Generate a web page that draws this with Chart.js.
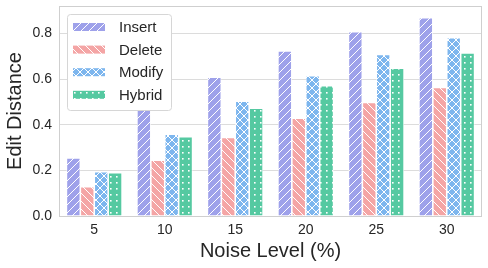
<!DOCTYPE html>
<html>
<head>
<meta charset="utf-8">
<script src="https://cdn.jsdelivr.net/npm/chart.js@4/dist/chart.umd.min.js"></script>
<style>
  html, body { margin: 0; padding: 0; background: #fff; }
  #wrap { width: 488px; height: 268px; }
</style>
</head>
<body>
<div id="wrap"><canvas id="barChart" width="488" height="268"></canvas></div>
<script>
// values
const noiseLevels = ['5', '10', '15', '20', '25', '30'];
const insertVals = [0.254, 0.48, 0.608, 0.723, 0.807, 0.869];
const deleteVals = [0.128, 0.245, 0.344, 0.428, 0.498, 0.563];
const modifyVals = [0.194, 0.358, 0.503, 0.615, 0.708, 0.781];
const hybridVals = [0.19, 0.347, 0.472, 0.571, 0.648, 0.714];
const seriesNames = ['Insert', 'Delete', 'Modify', 'Hybrid'];
const yTicks = [0.0, 0.2, 0.4, 0.6, 0.8];

const FONT = "'Liberation Sans', Arial, sans-serif";
const TEXT = '#262626';
const GRID = '#dcdcdc';

// hatch patterns like matplotlib: white lines on the bar colour
function makePattern(color, kind) {
    const s = kind === 'dots' ? 6 : 8;
    const c = document.createElement('canvas');
    c.width = s; c.height = s;
    const g = c.getContext('2d');
    g.fillStyle = color;
    g.fillRect(0, 0, s, s);
    g.strokeStyle = '#ffffff';
    g.fillStyle = '#ffffff';
    g.lineWidth = 1;
    const fwd = () => {
        g.beginPath();
        g.moveTo(-1, s + 1); g.lineTo(s + 1, -1);
        g.moveTo(-1, 1); g.lineTo(1, -1);
        g.moveTo(s - 1, s + 1); g.lineTo(s + 1, s - 1);
        g.stroke();
    };
    const back = () => {
        g.beginPath();
        g.moveTo(-1, -1); g.lineTo(s + 1, s + 1);
        g.moveTo(s - 1, -1); g.lineTo(s + 1, 1);
        g.moveTo(-1, s - 1); g.lineTo(1, s + 1);
        g.stroke();
    };
    if (kind === 'fwd') fwd();
    if (kind === 'back') back();
    if (kind === 'cross') { fwd(); back(); }
    if (kind === 'dots') g.fillRect(2, 2, 1.6, 1.6);
    return g.createPattern(c, 'repeat');
}

const colors = ['#9ea1ea', '#f4a5a5', '#7db6ee', '#55c9a1'];
const hatches = ['fwd', 'back', 'cross', 'dots'];
const allVals = [insertVals, deleteVals, modifyVals, hybridVals];

// legend drawn inside the plot, upper left, like matplotlib
const innerLegend = {
    id: 'innerLegend',
    afterDatasetsDraw(chart) {
        const ctx = chart.ctx;
        const a = chart.chartArea;
        // plot frame (all four spines light grey)
        ctx.save();
        ctx.strokeStyle = '#cfcfcf';
        ctx.lineWidth = 1;
        ctx.strokeRect(Math.round(a.left) + 0.5, Math.round(a.top) + 0.5,
            Math.round(a.right - a.left) - 1, Math.round(a.bottom - a.top));
        ctx.restore();

        const x = a.left + 8, y = a.top + 8, w = 104, h = 96;
        ctx.save();
        ctx.beginPath();
        ctx.roundRect(x + 0.5, y + 0.5, w, h, 3);
        ctx.fillStyle = '#ffffff';
        ctx.fill();
        ctx.strokeStyle = '#d6d6d6';
        ctx.lineWidth = 1;
        ctx.stroke();
        ctx.font = '15px ' + FONT;
        ctx.textBaseline = 'middle';
        chart.data.datasets.forEach((ds, i) => {
            const cy = y + 13 + i * 22.6;
            ctx.fillStyle = ds.backgroundColor;
            ctx.fillRect(x + 6, cy - 4, 32, 8);
            ctx.fillStyle = TEXT;
            ctx.fillText(ds.label, x + 52, cy + 1);
        });
        ctx.restore();
    }
};

const ctx = document.getElementById('barChart');
new Chart(ctx, {
    type: 'bar',
    data: {
        labels: noiseLevels,
        datasets: seriesNames.map((name, i) => ({
            label: name,
            data: allVals[i],
            backgroundColor: makePattern(colors[i], hatches[i]),
            borderColor: '#ffffff',
            borderWidth: 0.8,
            categoryPercentage: 0.79,
            barPercentage: 1.0
        }))
    },
    options: {
        responsive: false,
        animation: false,
        layout: { padding: { top: 0, right: 6, left: 0, bottom: 0 } },
        plugins: {
            legend: { display: false },
            tooltip: { enabled: false }
        },
        scales: {
            x: {
                grid: { display: false, drawTicks: false },
                border: { display: false },
                ticks: { color: TEXT, font: { family: FONT, size: 14 }, padding: 6 },
                title: {
                    display: true, text: 'Noise Level (%)', color: TEXT,
                    font: { family: FONT, size: 20 }, padding: { top: 0, bottom: 5 }
                },
                afterFit(scale) { scale.height = 52; }
            },
            y: {
                min: 0,
                max: 0.92,
                afterBuildTicks(scale) { scale.ticks = yTicks.map(v => ({ value: v })); },
                grid: { color: GRID, drawTicks: false },
                border: { display: false },
                ticks: {
                    color: TEXT, font: { family: FONT, size: 14 }, padding: 7,
                    callback: v => Number(v).toFixed(1)
                },
                title: {
                    display: true, text: 'Edit Distance', color: TEXT,
                    font: { family: FONT, size: 20 }, padding: { top: 3, bottom: 2 }
                },
                afterFit(scale) {
                    scale.width = 59;
                    scale.paddingTop = 6;
                    scale.paddingBottom = 0;
                }
            }
        }
    },
    plugins: [innerLegend]
});
</script>
</body>
</html>
